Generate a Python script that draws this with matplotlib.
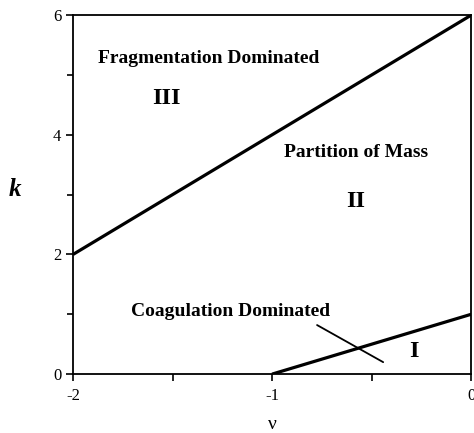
import matplotlib
matplotlib.use("Agg")
import matplotlib.pyplot as plt

plt.rcParams['font.family'] = ['Liberation Serif', 'DejaVu Serif']

upper_nu = [-2, 0]
upper_k = [2, 6]
lower_nu = [-1, 0]
lower_k = [0, 1]

xticks = [-2, -1.5, -1, -0.5, 0]
xticklabels = ['-2', '', '-1', '', '0']
yticks_major = [0, 2, 4, 6]
yticks_minor = [1, 3, 5]

fig = plt.figure(figsize=(4.74, 4.33), dpi=100)
ax = fig.add_axes([0.154, 0.136, 0.840, 0.829])
ax.plot(upper_nu, upper_k, color='black', lw=2.3, solid_capstyle='butt')
ax.plot(lower_nu, lower_k, color='black', lw=2.3, solid_capstyle='butt')
ax.set_xlim(-2, 0)
ax.set_ylim(0, 6)
ax.set_xticks(xticks)
ax.set_xticklabels(xticklabels)
ax.set_yticks(yticks_major)
ax.set_yticks(yticks_minor, minor=True)
ax.tick_params(axis='both', which='both', direction='out', labelsize=12, width=1.2)
ax.tick_params(axis='both', which='major', length=5)
ax.tick_params(axis='x', which='major', pad=5)
ax.tick_params(axis='y', which='minor', length=4)
for s in ax.spines.values():
    s.set_linewidth(1.3)

ax.text(-1.32, 5.28, 'Fragmentation Dominated', ha='center', va='center', fontsize=14, fontweight='bold')
ax.text(-1.53, 4.61, 'III', ha='center', va='center', fontsize=17.5, fontweight='bold')
ax.text(-0.578, 3.70, 'Partition of Mass', ha='center', va='center', fontsize=14, fontweight='bold')
ax.text(-0.58, 2.88, 'II', ha='center', va='center', fontsize=17.5, fontweight='bold')
ax.text(-1.21, 1.04, 'Coagulation Dominated', ha='center', va='center', fontsize=14, fontweight='bold')
ax.text(-0.29, 0.37, 'I', ha='center', va='center', fontsize=17.5, fontweight='bold')
ax.annotate('', xy=(-0.442, 0.20), xytext=(-0.774, 0.82),
            arrowprops=dict(arrowstyle='-', color='black', lw=1.3, shrinkA=0, shrinkB=0))

ax.set_xlabel('ν', fontsize=14, va='center')
ax.xaxis.set_label_coords(0.5, -0.139)
ax.set_ylabel('k', fontsize=18, fontweight='bold', fontstyle='italic', rotation=0, ha='center', va='center')
ax.yaxis.set_label_coords(-0.146, 0.515)

fig.savefig('out.png', dpi=100)
